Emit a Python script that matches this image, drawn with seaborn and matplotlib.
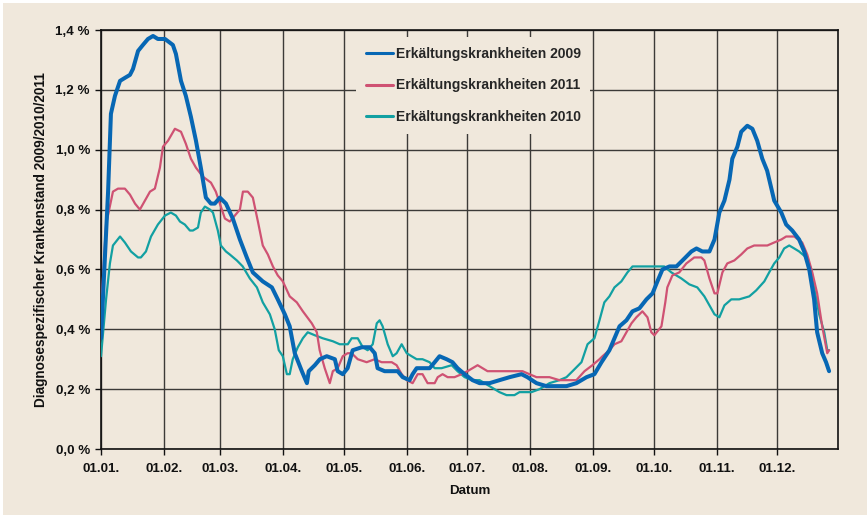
import matplotlib
matplotlib.use("Agg")
import matplotlib.pyplot as plt
import matplotlib.dates as mdates
from matplotlib.patches import Rectangle
from matplotlib.ticker import FixedLocator, FixedFormatter
import pandas as pd
import seaborn as sns

# Tag im Jahr (0 = 1. Januar) und Krankenstand in Prozent
tage_2009 = [0, 3.5, 4.9, 6.9, 9.4, 11.8, 14.3, 15.8, 18.3, 20.7, 23.2, 25.7, 28.1, 31.6,
             35.5, 37.0, 39.5, 41.9, 44.4, 46.9, 49.3, 51.8, 54.3, 56.2, 58.7, 61.7, 65.1,
             68.6, 72.0, 75.0, 79.9, 84.4, 87.3, 90.8, 93.2, 95.7, 99.2, 101.7, 102.6, 105.6,
             108.1, 111.5, 115.5, 116.9, 119.4, 121.8, 124.3, 128.8, 132.7, 135.2, 136.6,
             140.1, 144.1, 146.5, 149.0, 152.4, 153.9, 155.9, 158.8, 162.3, 164.8, 167.2,
             170.7, 173.6, 176.1, 179.6, 183.5, 187.0, 191.9, 196.8, 201.8, 207.7, 210.6,
             215.1, 220.0, 225.0, 229.9, 234.8, 239.8, 243.7, 247.2, 251.1, 253.6, 256.1,
             259.5, 262.5, 265.9, 269.4, 272.4, 274.8, 277.3, 280.8, 284.2, 287.2, 291.6,
             294.1, 297.0, 300.5, 303.0, 305.4, 307.9, 310.4, 311.8, 314.3, 316.2, 319.2,
             321.7, 324.1, 326.6, 329.0, 332.5, 336.0, 338.4, 341.4, 344.8, 347.3, 349.8,
             352.2, 353.7, 356.2, 358.1, 359.6]
werte_2009 = [0.37, 0.86, 1.12, 1.18, 1.23, 1.24, 1.25, 1.27, 1.33, 1.35, 1.37, 1.38, 1.37, 1.37,
              1.35, 1.32, 1.23, 1.18, 1.11, 1.03, 0.94, 0.84, 0.82, 0.82, 0.84, 0.82, 0.77,
              0.70, 0.64, 0.59, 0.56, 0.54, 0.50, 0.45, 0.41, 0.32, 0.26, 0.22, 0.26, 0.28,
              0.30, 0.31, 0.30, 0.26, 0.25, 0.27, 0.33, 0.34, 0.34, 0.32, 0.27,
              0.26, 0.26, 0.26, 0.24, 0.23, 0.25, 0.27, 0.27, 0.27, 0.29, 0.31,
              0.30, 0.29, 0.27, 0.25, 0.23, 0.22, 0.22, 0.23, 0.24, 0.25, 0.24,
              0.22, 0.21, 0.21, 0.21, 0.22, 0.24, 0.25, 0.29, 0.33, 0.37, 0.41,
              0.43, 0.46, 0.47, 0.50, 0.52, 0.56, 0.60, 0.61, 0.61, 0.63, 0.66,
              0.67, 0.66, 0.66, 0.70, 0.79, 0.83, 0.90, 0.97, 1.01, 1.06, 1.08,
              1.07, 1.03, 0.97, 0.93, 0.83, 0.79, 0.75, 0.73, 0.70, 0.66, 0.60,
              0.50, 0.39, 0.32, 0.29, 0.26]

tage_2011 = [0, 2.5, 5.9, 8.4, 11.8, 14.3, 16.8, 19.2, 21.7, 24.2, 26.6, 29.1, 30.6, 33.1,
             36.5, 39.5, 41.9, 44.4, 46.9, 50.3, 54.3, 56.7, 59.2, 61.2, 63.6, 66.1, 68.6,
             70.1, 72.5, 75.0, 77.5, 79.9, 82.4, 84.9, 87.3, 89.8, 93.2, 96.7, 99.7, 104.1,
             106.6, 108.0, 110.5, 113.0, 114.5, 116.9, 119.4, 121.8, 123.8, 126.8, 131.2,
             135.2, 138.6, 143.6, 146.0, 148.5, 151.0, 153.9, 156.4, 158.8, 161.3, 164.8,
             166.3, 168.7, 171.2, 174.6, 178.1, 181.0, 186.0, 190.9, 195.4, 200.3, 208.2,
             211.6, 215.1, 221.5, 226.4, 231.4, 234.8, 238.8, 242.7, 246.2, 247.7, 251.1,
             253.6, 257.0, 259.5, 262.0, 264.4, 267.4, 269.9, 271.8, 273.3, 276.8, 278.7,
             279.7, 282.2, 285.6, 289.1, 293.0, 296.5, 298.0, 300.5, 303.0, 304.4, 306.9,
             309.3, 312.8, 316.2, 319.2, 322.6, 326.1, 329.1, 332.5, 336.0, 338.4, 342.4,
             346.3, 348.8, 351.3, 353.7, 356.2, 358.7, 359.6]
werte_2011 = [0.46, 0.75, 0.86, 0.87, 0.87, 0.85, 0.82, 0.80, 0.83, 0.86, 0.87, 0.94, 1.01, 1.03,
              1.07, 1.06, 1.02, 0.97, 0.94, 0.91, 0.89, 0.86, 0.81, 0.77, 0.76, 0.78, 0.80,
              0.86, 0.86, 0.84, 0.76, 0.68, 0.65, 0.61, 0.58, 0.56, 0.51, 0.49, 0.46, 0.42,
              0.39, 0.33, 0.27, 0.22, 0.26, 0.27, 0.31, 0.32, 0.32, 0.30, 0.29,
              0.30, 0.29, 0.29, 0.28, 0.25, 0.23, 0.22, 0.25, 0.25, 0.22, 0.22,
              0.24, 0.25, 0.24, 0.24, 0.25, 0.26, 0.28, 0.26, 0.26, 0.26, 0.26,
              0.25, 0.24, 0.24, 0.23, 0.23, 0.23, 0.26, 0.28, 0.30, 0.31, 0.33,
              0.35, 0.36, 0.39, 0.42, 0.44, 0.46, 0.44, 0.39, 0.38, 0.41, 0.49,
              0.54, 0.58, 0.59, 0.62, 0.64, 0.64, 0.63, 0.57, 0.52, 0.52, 0.59,
              0.62, 0.63, 0.65, 0.67, 0.68, 0.68, 0.68, 0.69, 0.70, 0.71, 0.71,
              0.69, 0.65, 0.59, 0.52, 0.41, 0.32, 0.33]

tage_2010 = [0, 2.5, 4.4, 5.9, 9.4, 11.8, 14.8, 18.3, 19.7, 22.2, 24.7, 28.1, 31.6, 34.5,
             37.0, 39.0, 41.4, 43.9, 45.4, 47.9, 49.3, 51.3, 53.8, 55.3, 57.7, 59.2, 61.7,
             63.6, 67.1, 70.0, 73.5, 77.0, 79.9, 83.4, 85.8, 87.8, 89.8, 91.8, 93.2, 94.7,
             97.2, 99.7, 102.1, 105.6, 109.5, 114.5, 117.9, 121.9, 123.8, 126.8, 129.3,
             131.7, 134.2, 136.2, 137.6, 139.1, 141.6, 144.1, 146.0, 148.5, 151.0, 153.4,
             155.9, 158.8, 162.3, 164.8, 168.2, 173.2, 176.1, 179.6, 183.5, 187.0, 191.9,
             196.8, 200.3, 204.2, 206.7, 212.6, 216.6, 221.5, 226.4, 229.9, 232.9, 237.3,
             240.3, 243.7, 246.2, 248.6, 251.1, 253.6, 257.0, 260.0, 262.5, 278.2, 281.7,
             286.6, 290.6, 294.5, 298.0, 300.5, 303.0, 305.4, 307.9, 311.3, 315.2, 320.2,
             323.6, 327.6, 330.0, 332.5, 335.0, 337.4, 339.9, 342.4, 344.8, 348.3, 350.8,
             352.2, 354.7, 357.2, 358.7, 359.6]
werte_2010 = [0.31, 0.50, 0.62, 0.68, 0.71, 0.69, 0.66, 0.64, 0.64, 0.66, 0.71, 0.75, 0.78, 0.79,
              0.78, 0.76, 0.75, 0.73, 0.73, 0.74, 0.79, 0.81, 0.80, 0.79, 0.73, 0.68, 0.66,
              0.65, 0.63, 0.61, 0.57, 0.54, 0.49, 0.45, 0.40, 0.33, 0.31, 0.25, 0.25, 0.30,
              0.34, 0.37, 0.39, 0.38, 0.37, 0.36, 0.35, 0.35, 0.37, 0.37, 0.34,
              0.33, 0.35, 0.42, 0.43, 0.41, 0.35, 0.31, 0.32, 0.35, 0.32, 0.31,
              0.30, 0.30, 0.29, 0.27, 0.27, 0.28, 0.26, 0.24, 0.23, 0.23, 0.21,
              0.19, 0.18, 0.18, 0.19, 0.19, 0.20, 0.22, 0.23, 0.24, 0.26, 0.29,
              0.35, 0.37, 0.43, 0.49, 0.51, 0.54, 0.56, 0.59, 0.61, 0.61, 0.59,
              0.57, 0.55, 0.54, 0.51, 0.48, 0.45, 0.44, 0.48, 0.50, 0.50, 0.51,
              0.53, 0.56, 0.59, 0.62, 0.64, 0.67, 0.68, 0.67, 0.66, 0.64, 0.60,
              0.54, 0.45, 0.39, 0.33, 0.33]

monats_labels = ["01.01.", "01.02.", "01.03.", "01.04.", "01.05.", "01.06.",
                 "01.07.", "01.08.", "01.09.", "01.10.", "01.11.", "01.12."]
y_ticks = [0.0, 0.2, 0.4, 0.6, 0.8, 1.0, 1.2, 1.4]
y_labels = ["0,0 %", "0,2 %", "0,4 %", "0,6 %", "0,8 %", "1,0 %", "1,2 %", "1,4 %"]

BEIGE = "#F0E8DC"
FARBE_2009 = "#0767B4"
FARBE_2011 = "#CF5273"
FARBE_2010 = "#12A0A2"

sns.set_theme(style="white")
plt.rcParams["font.family"] = ["Liberation Sans", "DejaVu Sans"]
plt.rcParams["font.weight"] = "bold"

start = pd.Timestamp("2009-01-01")


def frame(tage, werte):
    return pd.DataFrame({"Datum": start + pd.to_timedelta(tage, unit="D"), "Wert": werte})


fig = plt.figure(figsize=(8.67, 5.15), dpi=100, facecolor="white")
# beige Hintergrund mit schmalem hellen Rand oben und links
fig.patches.append(Rectangle((3 / 867, 0), 1, 1 - 3 / 515, transform=fig.transFigure,
                             facecolor=BEIGE, edgecolor="none", zorder=-10))
ax = fig.add_axes([101 / 867, 1 - 449 / 515, 737 / 867, 419 / 515])
ax.set_facecolor(BEIGE)

sns.lineplot(data=frame(tage_2010, werte_2010), x="Datum", y="Wert", ax=ax,
             color=FARBE_2010, linewidth=1.6, label="Erkältungskrankheiten 2010", zorder=3)
sns.lineplot(data=frame(tage_2011, werte_2011), x="Datum", y="Wert", ax=ax,
             color=FARBE_2011, linewidth=1.6, label="Erkältungskrankheiten 2011", zorder=4)
sns.lineplot(data=frame(tage_2009, werte_2009), x="Datum", y="Wert", ax=ax,
             color=FARBE_2009, linewidth=2.9, label="Erkältungskrankheiten 2009", zorder=5)

ax.set_xlim(start, pd.Timestamp("2009-12-31"))
ax.set_ylim(0, 1.4)

monate = mdates.date2num(pd.date_range(start, periods=12, freq="MS"))
ax.xaxis.set_major_locator(FixedLocator(monate))
ax.xaxis.set_major_formatter(FixedFormatter(monats_labels))
ax.yaxis.set_major_locator(FixedLocator(y_ticks))
ax.yaxis.set_major_formatter(FixedFormatter(y_labels))

ax.grid(True, color="#3c3a38", linewidth=1.0)
ax.set_axisbelow(True)
for s in ax.spines.values():
    s.set_color("#111111")
    s.set_linewidth(1.2)

ax.tick_params(axis="both", which="major", direction="out", length=4, width=1,
               color="#111111", labelsize=9.6, labelcolor="#111111")
ax.tick_params(axis="x", pad=6, bottom=True)
ax.tick_params(axis="y", pad=4, left=True)
for lab in ax.get_xticklabels() + ax.get_yticklabels():
    lab.set_fontweight("bold")

ax.set_xlabel("Datum", fontsize=9.6, fontweight="bold", color="#111111", labelpad=7)
ax.set_ylabel("Diagnosespezifischer Krankenstand 2009/2010/2011", fontsize=9.8,
              fontweight="bold", color="#111111", labelpad=5)

handles, labels = ax.get_legend_handles_labels()
order = [2, 1, 0]
leg = ax.legend([handles[i] for i in order], [labels[i] for i in order],
                loc="upper left", bbox_to_anchor=(0.346, 0.983),
                frameon=True, facecolor=BEIGE, edgecolor="none", framealpha=1,
                fancybox=False, prop={"weight": "bold", "size": 10},
                handlelength=1.95, handletextpad=0.2, labelspacing=1.27,
                borderpad=0.7, borderaxespad=0)
leg.set_zorder(6)
for line in leg.get_lines():
    line.set_linewidth(2.2)

fig.savefig("out.png", dpi=100, facecolor=fig.get_facecolor())
